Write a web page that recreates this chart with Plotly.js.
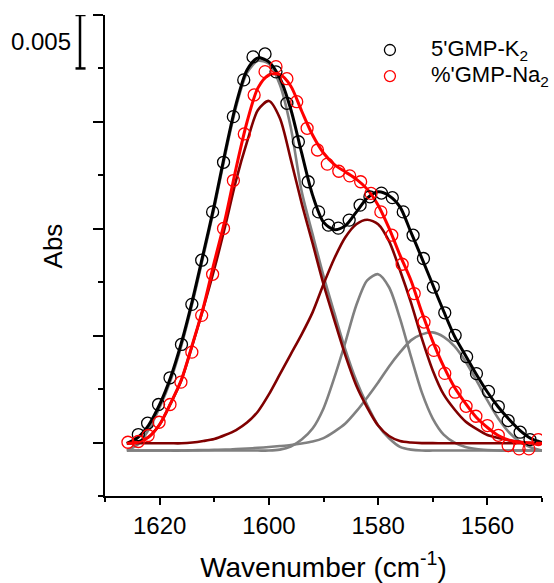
<!DOCTYPE html>
<html>
<head>
<meta charset="utf-8">
<script src="https://cdn.plot.ly/plotly-3.0.1.min.js"></script>
<style>html,body{margin:0;padding:0;background:#fff;}#chart{width:554px;height:583px;}</style>
</head>
<body>
<div id="chart"></div>
<script>
// wavenumber grid for the fitted curves (cm^-1)
const fitWn = [1626,1624,1622,1620,1618,1616,1614,1612,1610,1608,1606,1604,1602,1600,1598,1596,1594,1592,1590,1588,1586,1584,1582,1580,1578,1576,1574,1572,1570,1568,1566,1564,1562,1560,1558,1556,1554,1552,1550];

// overall fits
const fitK = [-0.00007,0.00047,0.00164,0.00356,0.00609,0.00937,0.01331,0.01771,0.02221,0.02718,0.03168,0.03486,0.03599,0.03561,0.03411,0.03121,0.02709,0.02315,0.02062,0.01992,0.02029,0.02156,0.02287,0.02346,0.0231,0.02205,0.01968,0.01726,0.01476,0.01228,0.00993,0.00815,0.00637,0.00473,0.00333,0.00216,0.00112,0.00037,0.0];
const fitNa = [-0.00007,0.00003,0.00052,0.00169,0.00366,0.0059,0.00918,0.01265,0.01687,0.0209,0.02568,0.02999,0.03318,0.0344,0.03444,0.03336,0.03102,0.02877,0.02709,0.02601,0.02532,0.02465,0.02371,0.02221,0.02006,0.01753,0.01518,0.01218,0.00947,0.00712,0.00515,0.00366,0.00234,0.00141,0.00066,0.00023,0.00003,-0.00005,-0.00007];

// component bands, Na2 salt (dark red)
const naBand1600 = [-0.00007,0.00003,0.00052,0.00168,0.00364,0.00586,0.00912,0.01255,0.01621,0.02024,0.02455,0.02812,0.03112,0.03196,0.03037,0.02652,0.0224,0.01865,0.01481,0.01143,0.00815,0.00534,0.00328,0.00159,0.00061,0.00014,0.0,-0.00005,-0.00005,-0.00007,-0.00007,-0.00007,-0.00007,-0.00007,-0.00007,-0.00007,-0.00007,-0.00007,-0.00007];
const naBand1581 = [-0.00007,-0.00007,-0.00007,-0.00007,-0.00007,-0.00007,0.0,0.00014,0.00033,0.0007,0.00117,0.00187,0.00291,0.0045,0.00637,0.00825,0.01012,0.01218,0.01481,0.01724,0.01921,0.02043,0.02085,0.02043,0.01884,0.01612,0.01312,0.00975,0.00675,0.0045,0.00309,0.00197,0.00127,0.0007,0.00042,0.00019,0.00007,-0.00003,-0.00007];

// component bands, K2 salt (grey)
const kBand1601 = [-0.00075,-0.00019,0.00122,0.00328,0.00581,0.00909,0.01303,0.01743,0.02193,0.0269,0.0314,0.03458,0.03571,0.03543,0.0335,0.0295,0.0235,0.0195,0.0156,0.0121,0.0087,0.0058,0.0035,0.0016,0.0004,-0.0004,-0.00066,-0.00075,-0.00075,-0.00075,-0.00075,-0.00075,-0.00075,-0.00075,-0.00075,-0.00075,-0.00075,-0.00075,-0.00075];
const kBand1580 = [-0.00075,-0.00075,-0.00075,-0.00075,-0.00075,-0.00075,-0.00075,-0.00075,-0.00075,-0.00075,-0.00075,-0.00075,-0.00075,-0.00075,-0.00066,-0.00037,0.00028,0.00131,0.00319,0.00609,0.00937,0.01284,0.01518,0.01575,0.01453,0.01162,0.00806,0.00469,0.00225,0.00075,0.0,-0.00042,-0.00061,-0.0007,-0.00075,-0.00075,-0.00075,-0.00075,-0.00075];
const kBand1570 = [-0.00075,-0.00075,-0.00075,-0.00075,-0.00075,-0.00075,-0.00072,-0.0007,-0.00068,-0.00066,-0.00061,-0.00056,-0.00049,-0.00042,-0.00033,-0.00023,-0.00009,0.00009,0.00042,0.00103,0.00178,0.00291,0.00422,0.00562,0.00712,0.00843,0.00956,0.01012,0.01031,0.00989,0.009,0.00759,0.00581,0.00394,0.00225,0.00094,0.00005,-0.00047,-0.00075];

// measured spectra (open circles)
const kWn = [1623.9,1622.2,1620.2,1618.1,1616.0,1614.1,1612.3,1610.3,1608.3,1606.5,1604.6,1602.9,1600.7,1598.7,1596.7,1594.6,1592.8,1590.9,1589.1,1587.3,1585.3,1583.3,1581.5,1579.4,1577.4,1575.4,1573.6,1571.7,1569.9,1567.8,1565.9,1563.8,1562.0,1559.8,1558.0,1556.2,1554.0,1552.2];
const kAbs = [0.00075,0.00181,0.00356,0.00606,0.00918,0.01293,0.01706,0.02158,0.02622,0.03049,0.03393,0.03608,0.03636,0.03468,0.03174,0.02814,0.0244,0.02158,0.02034,0.02006,0.02081,0.02221,0.02299,0.02334,0.02291,0.02158,0.0194,0.01722,0.01455,0.01214,0.01003,0.00803,0.00645,0.00478,0.00337,0.00206,0.00097,0.00028];
const naWn = [1625.8,1623.9,1622.1,1620.1,1618.1,1616.1,1614.1,1612.3,1610.3,1608.3,1606.5,1604.5,1602.7,1600.7,1598.7,1596.7,1594.9,1593.0,1591.1,1589.3,1587.2,1585.2,1583.2,1581.3,1579.5,1577.5,1575.6,1573.4,1571.6,1569.8,1567.8,1565.9,1563.9,1562.1,1560.0,1558.0,1556.2,1554.2,1552.4,1550.7];
const naAbs = [0.00003,0.0001,0.00066,0.0019,0.00356,0.00565,0.00846,0.0119,0.01574,0.02003,0.02451,0.02887,0.03252,0.0347,0.03517,0.03404,0.03189,0.0294,0.02737,0.02605,0.02538,0.02495,0.0244,0.02331,0.02158,0.0194,0.01668,0.01394,0.01127,0.00862,0.00647,0.00471,0.00339,0.00246,0.00159,0.00068,-0.00028,-0.00059,-0.00059,0.00028];

const seriesNames = ["5'GMP-K<sub>2</sub>", "%'GMP-Na<sub>2</sub>"];
const seriesColors = ['#000000', '#ff0000'];
const scaleBarLabel = "0.005";
const xTitle = 'Wavenumber (cm<sup>-1</sup>)';
const yTitle = "Abs";

const FONT = 'Arial, "Liberation Sans", sans-serif';
const GREY = '#808080', DARKRED = '#800000';

function curve(y, color, width) {
  return {x: fitWn, y: y, type: 'scatter', mode: 'lines', showlegend: false, hoverinfo: 'skip',
          line: {color: color, width: width, shape: 'spline', smoothing: 0.8}};
}
function dots(x, y, color, name) {
  return {x: x, y: y, type: 'scatter', mode: 'markers', name: name, showlegend: false,
          marker: {symbol: 'circle-open', size: 12, color: color, line: {color: color, width: 1.3}}};
}

const traces = [
  curve(kBand1601, GREY, 2.6),
  curve(kBand1580, GREY, 2.6),
  curve(kBand1570, GREY, 2.6),
  curve(naBand1600, DARKRED, 2.6),
  curve(naBand1581, DARKRED, 2.6),
  curve(fitK, seriesColors[0], 3),
  curve(fitNa, seriesColors[1], 3),
  dots(kWn, kAbs, seriesColors[0], seriesNames[0]),
  dots(naWn, naAbs, seriesColors[1], seriesNames[1])
];

// hand-placed legend (row spacing like the original)
const legX = 0.652, legTextX = 0.742, legY = [0.9272, 0.873];
const legendShapes = seriesColors.map((c, i) => ({
  type: 'circle', xref: 'paper', yref: 'paper', xsizemode: 'pixel', ysizemode: 'pixel',
  xanchor: legX, yanchor: legY[i], x0: -5.5, x1: 5.5, y0: -5.5, y1: 5.5, line: {color: c, width: 1.3}
}));
const legendTexts = seriesNames.map((n, i) => ({
  text: n, xref: 'paper', yref: 'paper', x: legTextX, y: legY[i], xanchor: 'left', yanchor: 'middle',
  showarrow: false, font: {family: FONT, size: 22, color: '#000'}
}));

const layout = {
  width: 554, height: 583,
  margin: {l: 105, r: 12, t: 15, b: 87, pad: 0, autoexpand: false},
  paper_bgcolor: '#ffffff', plot_bgcolor: '#ffffff',
  font: {family: FONT, color: '#000000'},
  showlegend: false,
  xaxis: {
    range: [1630, 1550], tick0: 1560, dtick: 20, ticks: 'outside', ticklen: 7, tickwidth: 2, tickcolor: '#000',
    showline: true, linewidth: 2, linecolor: '#000', mirror: false, showgrid: false, zeroline: false,
    tickfont: {family: FONT, size: 24},
    minor: {dtick: 10, ticks: 'outside', ticklen: 4, tickwidth: 2, tickcolor: '#000', showgrid: false},
    title: {text: xTitle, font: {family: FONT, size: 28}, standoff: 20}
  },
  yaxis: {
    range: [-0.005, 0.04], tick0: 0, dtick: 0.01, ticks: 'outside', ticklen: 10, tickwidth: 2, tickcolor: '#000',
    showticklabels: false, showline: true, linewidth: 2, linecolor: '#000', mirror: false,
    showgrid: false, zeroline: false,
    minor: {dtick: 0.005, ticks: 'outside', ticklen: 5, tickwidth: 2, tickcolor: '#000', showgrid: false}
  },
  shapes: [
    {type: 'line', xref: 'paper', yref: 'y', x0: -0.0572, x1: -0.0572, y0: 0.035, y1: 0.04, line: {color: '#000', width: 2.5}},
    {type: 'line', xref: 'paper', yref: 'y', x0: -0.0675, x1: -0.0445, y0: 0.04, y1: 0.04, line: {color: '#000', width: 2.5}},
    {type: 'line', xref: 'paper', yref: 'y', x0: -0.0675, x1: -0.0445, y0: 0.035, y1: 0.035, line: {color: '#000', width: 2.5}}
  ].concat(legendShapes),
  annotations: [
    {text: scaleBarLabel, xref: 'paper', yref: 'y', x: -0.074, y: 0.0375, xanchor: 'right', yanchor: 'middle',
     showarrow: false, font: {family: FONT, size: 24, color: '#000'}},
    {text: yTitle, xref: 'paper', yref: 'paper', x: -0.12, y: 0.52, xanchor: 'center', yanchor: 'middle',
     textangle: -90, showarrow: false, font: {family: FONT, size: 26, color: '#000'}}
  ].concat(legendTexts)
};

Plotly.newPlot('chart', traces, layout, {displayModeBar: false, staticPlot: true});
</script>
</body>
</html>
